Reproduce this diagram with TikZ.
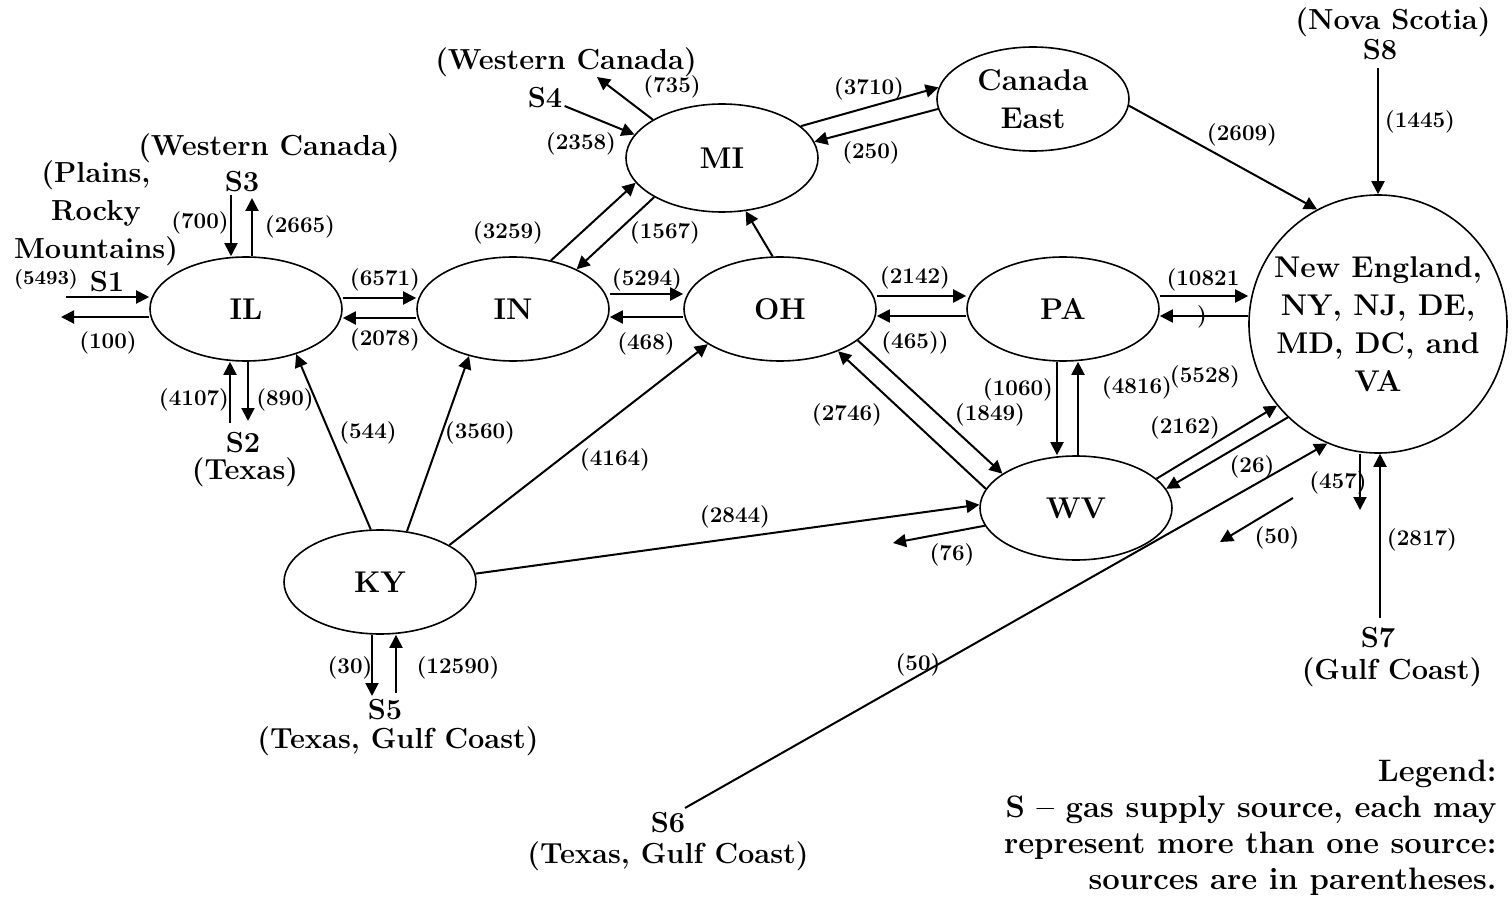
\documentclass[tikz,border=0pt]{standalone}
\usetikzlibrary{shapes.geometric,arrows.meta}

\begin{document}
\begin{tikzpicture}[x=0.5pt,y=-0.5pt]
    \tikzset{state/.style={draw,ellipse,line width=0.8pt,inner sep=0pt,minimum width=96pt,minimum height=52pt,align=center,font=\fontsize{15}{19}\selectfont\bfseries}}
    \tikzset{src/.style={inner sep=1pt,align=center,font=\fontsize{14.5}{19}\selectfont\bfseries}}
    \tikzset{val/.style={inner sep=0pt,font=\fontsize{11.2}{12}\selectfont\bfseries}}
    \tikzset{flow/.style={line width=1pt,-{Triangle[length=6.5pt,width=6.5pt]}}}
    %\tikzset{every node/.style={draw=red}}
    \useasboundingbox (0,0) rectangle (1512,899);

    % states
    \node[state] (IL) at (246,309) {IL};
    \node[state] (IN) at (513,309) {IN};
    \node[state] (OH) at (780,309) {OH};
    \node[state] (PA) at (1063,309) {PA};
    \node[state,minimum height=54pt] (MI) at (722,158) {MI};
    \node[state] (CE) at (1033,99) {Canada\\East};
    \node[state] (WV) at (1076,508) {WV};
    \node[state] (KY) at (380,582) {KY};
    \node[draw,circle,line width=0.8pt,inner sep=0pt,minimum size=129pt,align=center,
          font=\fontsize{15}{19}\selectfont\bfseries] (NE) at (1378,324)
          {New England,\\NY, NJ, DE,\\MD, DC, and\\VA};

    % sources
    \node[src] (pl) at (96,213) {(Plains,\\Rocky\\Mountains)};
    \node[src] (S1) at (107,282) {S1};
    \node[src] (wc3) at (269,148) {(Western Canada)};
    \node[src] (S3) at (242,182) {S3};
    \node[src] (S2) at (243,443) {S2};
    \node[src] (tx2) at (245,472) {(Texas)};
    \node[src] (wc4) at (566,62) {(Western Canada)};
    \node[src] (S4) at (545,98) {S4};
    \node[src] (ns) at (1393,22) {(Nova Scotia)};
    \node[src] (S8) at (1380,50) {S8};
    \node[src] (S5) at (385,710) {S5};
    \node[src] (tgc5) at (398,741) {(Texas, Gulf Coast)};
    \node[src] (S6) at (668,823) {S6};
    \node[src] (tgc6) at (668,856) {(Texas, Gulf Coast)};
    \node[src] (S7) at (1378,638) {S7};
    \node[src] (gc7) at (1392,672) {(Gulf Coast)};

    \coordinate (s1in) at (66,297);
    \coordinate (s1out) at (61,317);
    \coordinate (s3in) at (231,195);
    \coordinate (s3out) at (252,198);
    \coordinate (s2in) at (230,423);
    \coordinate (s2out) at (248,421);
    \coordinate (wc4out) at (597,77);
    \coordinate (s8in) at (1378,68);
    \coordinate (s5in) at (396,693);
    \coordinate (s5out) at (372,696);
    \coordinate (s6in) at (685,808);
    \coordinate (s7in) at (1380,618);
    \coordinate (ne457) at (1360,510);
    \coordinate (wv76) at (893,543);
    \coordinate (f50a) at (1293,498);
    \coordinate (f50b) at (1220,542);

    % flows
    \draw[flow] (s1in) -- ([yshift=6pt]IL.west);
    \draw[flow] ([yshift=-4pt]IL.west) -- (s1out);
    \draw[flow] (s3in) -- ([xshift=-7.5pt]IL.north);
    \draw[flow] ([xshift=3pt]IL.north) -- (s3out);
    \draw[flow] (s2in) -- ([xshift=-8pt]IL.south);
    \draw[flow] ([xshift=1pt]IL.south) -- (s2out);
    \draw[flow] ([yshift=5.5pt]IL.east) -- ([yshift=5.5pt]IN.west);
    \draw[flow] ([yshift=-4.5pt]IN.west) -- ([yshift=-4.5pt]IL.east);
    \draw[flow] ([yshift=7.5pt]IN.east) -- ([yshift=7.5pt]OH.west);
    \draw[flow] ([yshift=-4pt]OH.west) -- ([yshift=-4pt]IN.east);
    \draw[flow] ([yshift=6.5pt]OH.east) -- ([yshift=6.5pt]PA.west);
    \draw[flow] ([yshift=-3.5pt]PA.west) -- ([yshift=-3.5pt]OH.east);
    \draw[flow] ([yshift=6.5pt]PA.east) -- ([yshift=14pt]NE.west);
    \draw[flow] ([yshift=4pt]NE.west) -- ([yshift=-3.5pt]PA.east);
    \draw[flow] (IN.52) -- (MI.196);
    \draw[flow] (MI.210) -- (IN.32);
    \draw[flow] (S4) -- (MI.165);
    \draw[flow] (MI.151) -- (wc4out);
    \draw[flow] (MI.22) -- (CE.173);
    \draw[flow] (CE.186) -- (MI.10);
    \draw[flow] (CE.-4) -- (NE.118);
    \draw[flow] (OH.98) -- (MI.-66);
    \draw[flow] (OH.-22) -- (WV.155);
    \draw[flow] (WV.168) -- (OH.-36);
    \draw[flow] ([xshift=-3pt]PA.south) -- ([xshift=-9.5pt]WV.north);
    \draw[flow] ([xshift=1pt]WV.north) -- ([xshift=7.5pt]PA.south);
    \draw[flow] (WV.191) -- (wv76);
    \draw[flow] (WV.20) -- (NE.219);
    \draw[flow] (NE.226) -- (WV.12);
    \draw[flow] (KY.100) -- (IL.-42);
    \draw[flow] (KY.62) -- (IN.227);
    \draw[flow] (KY.28) -- (OH.206);
    \draw[flow] (KY.5) -- (WV.178);
    \draw[flow] ([xshift=-4pt]KY.south) -- (s5out);
    \draw[flow] (s5in) -- ([xshift=8pt]KY.south);
    \draw[flow] (s6in) -- (NE.247);
    \draw[flow] (f50a) -- (f50b);
    \draw[flow] ([xshift=-9pt]NE.south) -- (ne457);
    \draw[flow] (s7in) -- ([xshift=1pt]NE.south);
    \draw[flow] (s8in) -- (NE.north);

    % values
    \node[val,font=\fontsize{10}{11}\selectfont\bfseries] (v5493) at (46,279) {(5493)};
    \node[val] (v100) at (108,343) {(100)};
    \node[val] (v700) at (200,223) {(700)};
    \node[val] (v2665) at (300,227) {(2665)};
    \node[val] (v4107) at (194,400) {(4107)};
    \node[val] (v890) at (285,400) {(890)};
    \node[val] (v6571) at (385,280) {(6571)};
    \node[val] (v2078) at (385,340) {(2078)};
    \node[val] (v544) at (368,433) {(544)};
    \node[val] (v3560) at (480,433) {(3560)};
    \node[val] (v3259) at (508,233) {(3259)};
    \node[val] (v1567) at (665,233) {(1567)};
    \node[val] (v2358) at (581,144) {(2358)};
    \node[val] (v735) at (672,87) {(735)};
    \node[val] (v5294) at (647,280) {(5294)};
    \node[val] (v468) at (646,344) {(468)};
    \node[val] (v4164) at (615,460) {(4164)};
    \node[val] (v3710) at (869,89) {(3710)};
    \node[val] (v250) at (871,153) {(250)};
    \node[val] (v2609) at (1242,135) {(2609)};
    \node[val] (v1445) at (1420,122) {(1445)};
    \node[val] (v2142) at (915,278) {(2142)};
    \node[val] (v465) at (915,343) {(465))};
    \node[val] (v1849) at (990,415) {(1849)};
    \node[val] (v2746) at (847,415) {(2746)};
    \node[val] (v1060) at (1018,390) {(1060)};
    \node[val] (v4816) at (1137,388) {(4816)};
    \node[val] (v5528) at (1205,377) {(5528)};
    \node[val] (v10821) at (1203,280) {(10821};
    \node[val] (v10821b) at (1202,317) {)};
    \node[val] (v2162) at (1185,428) {(2162)};
    \node[val] (v26) at (1252,467) {(26)};
    \node[val] (v457) at (1338,483) {(457)};
    \node[val] (v50b) at (1277,538) {(50)};
    \node[val] (v2817) at (1422,540) {(2817)};
    \node[val] (v2844) at (735,517) {(2844)};
    \node[val] (v76) at (952,555) {(76)};
    \node[val] (v30) at (350,668) {(30)};
    \node[val] (v12590) at (458,668) {(12590)};
    \node[val] (v50a) at (918,665) {(50)};

    \node[inner sep=0pt,anchor=east,align=right,font=\fontsize{15.5}{18}\selectfont\bfseries] (legend) at (1497,828)
        {Legend:\\S -- gas supply source, each may\\represent more than one source:\\sources are in parentheses.};
\end{tikzpicture}
\end{document}
